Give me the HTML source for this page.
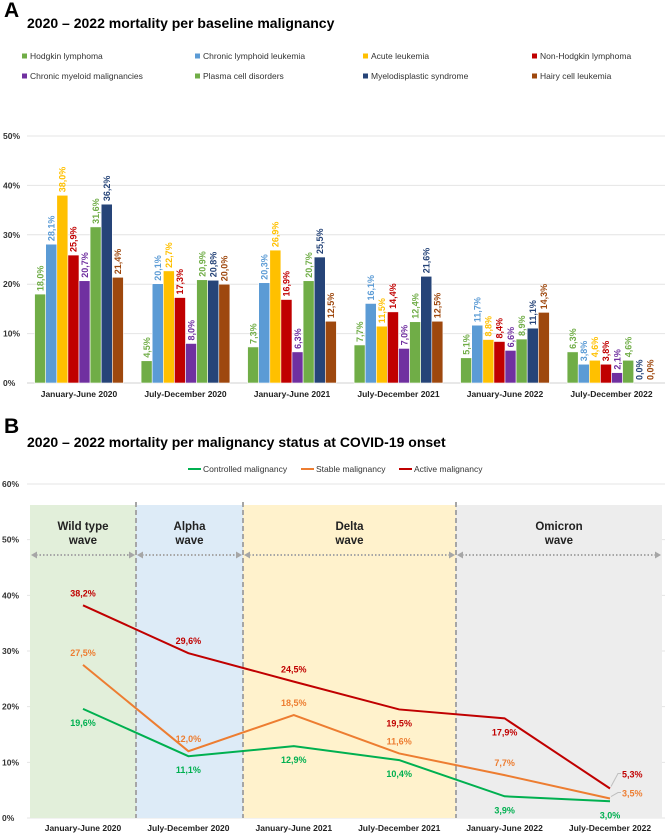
<!DOCTYPE html>
<html><head><meta charset="utf-8"><style>
body{margin:0;background:#fff;}
svg{display:block;font-family:"Liberation Sans",Arial,sans-serif;}
</style></head><body>
<svg id="s" width="669" height="834" viewBox="0 0 669 834" xmlns="http://www.w3.org/2000/svg">
<text x="4" y="17" font-size="21" font-weight="bold">A</text>
<text x="27" y="28" font-size="14" font-weight="bold">2020 – 2022 mortality per baseline malignancy</text>
<g id="legA"></g>
<g id="chartA"></g>
<text x="4" y="433" font-size="21" font-weight="bold">B</text>
<text x="27" y="447" font-size="14" font-weight="bold">2020 – 2022 mortality per malignancy status at COVID-19 onset</text>
<g id="chartB"></g>
</svg>
<script>
const categories=["January-June 2020","July-December 2020","January-June 2021","July-December 2021","January-June 2022","July-December 2022"];
const seriesNames=["Hodgkin lymphoma","Chronic lymphoid leukemia","Acute leukemia","Non-Hodgkin lymphoma","Chronic myeloid malignancies","Plasma cell disorders","Myelodisplastic syndrome","Hairy cell leukemia"];
const hodgkin=[18.0,4.5,7.3,7.7,5.1,6.3];
const cll=[28.1,20.1,20.3,16.1,11.7,3.8];
const acute=[38.0,22.7,26.9,11.5,8.8,4.6];
const nhl=[25.9,17.3,16.9,14.4,8.4,3.8];
const cml=[20.7,8.0,6.3,7.0,6.6,2.1];
const plasma=[31.6,20.9,20.7,12.4,8.9,4.6];
const mds=[36.2,20.8,25.5,21.6,11.1,0.0];
const hairy=[21.4,20.0,12.5,12.5,14.3,0.0];
const ticksA=[0,10,20,30,40,50];
const lineNames=["Controlled malignancy","Stable malignancy","Active malignancy"];
const controlled=[19.6,11.1,12.9,10.4,3.9,3.0];
const stable=[27.5,12.0,18.5,11.6,7.7,3.5];
const active=[38.2,29.6,24.5,19.5,17.9,5.3];
const ticksB=[0,10,20,30,40,50,60];
const waves=[["Wild type","wave"],["Alpha","wave"],["Delta","wave"],["Omicron","wave"]];

const NS="http://www.w3.org/2000/svg";
function mk(p,t,a,txt){const e=document.createElementNS(NS,t);for(const k in a)e.setAttribute(k,a[k]);if(txt!=null)e.textContent=txt;p.appendChild(e);return e;}
const fmt=v=>v.toFixed(1).replace('.',',')+'%';

// Chart A
const A=document.getElementById('chartA'),LA=document.getElementById('legA');
const colorsA=["#70ad47","#5b9bd5","#ffc000","#c00000","#7030a0","#70ad47","#264478","#9e480e"];
const dataA=[hodgkin,cll,acute,nhl,cml,plasma,mds,hairy];
const yA=v=>383-v*4.94;
const xA=i=>79+i*106.5;
const legX=[22,195,363,532];
seriesNames.forEach((n,s)=>{
  const lx=legX[s%4],ly=s<4?56:76;
  const r=mk(LA,'rect',{x:lx,y:ly-2.5,width:5,height:5,fill:colorsA[s]});
  
  
  const t=mk(LA,'text',{x:lx+8,y:ly+3,'font-size':8.5,fill:'#333'},n);
  
  
});
ticksA.forEach(v=>{
  const l=mk(A,'line',{x1:27,x2:665,y1:yA(v),y2:yA(v),stroke:v===0?'#d0d0d0':'#e4e4e4','stroke-width':1});
  
  
  const t=mk(A,'text',{x:3,y:yA(v)+3,'font-size':8.5,'font-weight':'bold',fill:'#333'},v+'%');
  
  
});
const bw=11.1;
categories.forEach((c,i)=>{
  const t=mk(A,'text',{x:xA(i),y:397,'font-size':8.5,'font-weight':'bold','text-anchor':'middle',fill:'#222'},c);
  
  
  dataA.forEach((arr,s)=>{
    const x=xA(i)-4*bw+s*bw, v=arr[i];
    const b=mk(A,'rect',{x:x,y:yA(v),width:bw,height:383-yA(v),fill:colorsA[s],stroke:'#fff','stroke-width':0.6});
    
    
    const lx=x+bw/2+3.2, ly=yA(v)-3;
    const lt=mk(A,'text',{x:0,y:0,transform:`translate(${lx},${ly}) rotate(-90)`,'font-size':9,'font-weight':'bold',fill:colorsA[s]},fmt(v));
    
    
  });
});

// Chart B
const B=document.getElementById('chartB');
const yB=v=>818-v*5.567;
const xB=i=>83+i*105.4;
const bands=[[30,136,"#e2efda"],[136,243,"#ddebf7"],[243,456,"#fff2cc"],[456,662,"#ededed"]];
ticksB.forEach(v=>{
  const l=mk(B,'line',{x1:27,x2:665,y1:yB(v),y2:yB(v),stroke:'#e4e4e4','stroke-width':1});
  
  
  const t=mk(B,'text',{x:2,y:yB(v)+3,'font-size':8.5,'font-weight':'bold',fill:'#333'},v+'%');
  
  
});
bands.forEach((b,k)=>{
  const r=mk(B,'rect',{x:b[0],y:505,width:b[1]-b[0],height:313,fill:b[2]});
  
  
  const cx=(b[0]+b[1])/2;
  const t1=mk(B,'text',{x:cx,y:530,'font-size':11.5,'font-weight':'bold','text-anchor':'middle',fill:'#222'},waves[k][0]);
  
  
  const t2=mk(B,'text',{x:cx,y:544,'font-size':11.5,'font-weight':'bold','text-anchor':'middle',fill:'#222'},waves[k][1]);
  
  
  const a=mk(B,'line',{x1:b[0]+6,x2:b[1]-6,y1:555,y2:555,stroke:'#a6a6a6','stroke-width':2,'stroke-dasharray':'1.5 2'});
  
  
  const h1=mk(B,'path',{d:`M${b[0]+1} 555 L${b[0]+7} 551.5 L${b[0]+7} 558.5Z`,fill:'#a6a6a6'});
  
  
  const h2=mk(B,'path',{d:`M${b[1]-1} 555 L${b[1]-7} 551.5 L${b[1]-7} 558.5Z`,fill:'#a6a6a6'});
  
  
});
[136,243,456].forEach(x=>{
  const l=mk(B,'line',{x1:x,x2:x,y1:502,y2:818,stroke:'#a6a6a6','stroke-width':2,'stroke-dasharray':'5 3'});
  
  
});
const colorsB=["#00b050","#ed7d31","#c00000"];
const dataB=[controlled,stable,active];
const legBX=[188,301,399];
lineNames.forEach((n,s)=>{
  const l=mk(B,'line',{x1:legBX[s],x2:legBX[s]+13,y1:469,y2:469,stroke:colorsB[s],'stroke-width':2});
  
  
  const t=mk(B,'text',{x:legBX[s]+15,y:472,'font-size':8.5,fill:'#333'},n);
  
  
});
const offB=[[14,14,14,14,14,14],[-12,-12,-12,-12,-12,0],[-12,-12,-12,14,14,-12]];
dataB.forEach((arr,s)=>{
  const p=mk(B,'polyline',{points:arr.map((v,i)=>xB(i)+','+yB(v)).join(' '),fill:'none',stroke:colorsB[s],'stroke-width':2});
  
  
  arr.forEach((v,i)=>{
    let x=xB(i),y=yB(v)+offB[s][i]+3,anchor='middle';
    if(i===5&&s>0){x=xB(i)+12;y=yB(v)+(s===2?-11:-2);anchor='start';
      const ld=mk(B,'polyline',{points:`${xB(i)+1},${yB(v)-2} ${xB(i)+8},${y-4} ${xB(i)+11},${y-4}`,fill:'none',stroke:'#bfbfbf','stroke-width':1});
      
      
    }
    const t=mk(B,'text',{x:x,y:y,'font-size':9,'font-weight':'bold','text-anchor':anchor,fill:colorsB[s]},fmt(v));
    
    
  });
});
categories.forEach((c,i)=>{
  const t=mk(B,'text',{x:xB(i),y:831,'font-size':8.5,'font-weight':'bold','text-anchor':'middle',fill:'#222'},c);
  
  
});
</script>
</body></html>
